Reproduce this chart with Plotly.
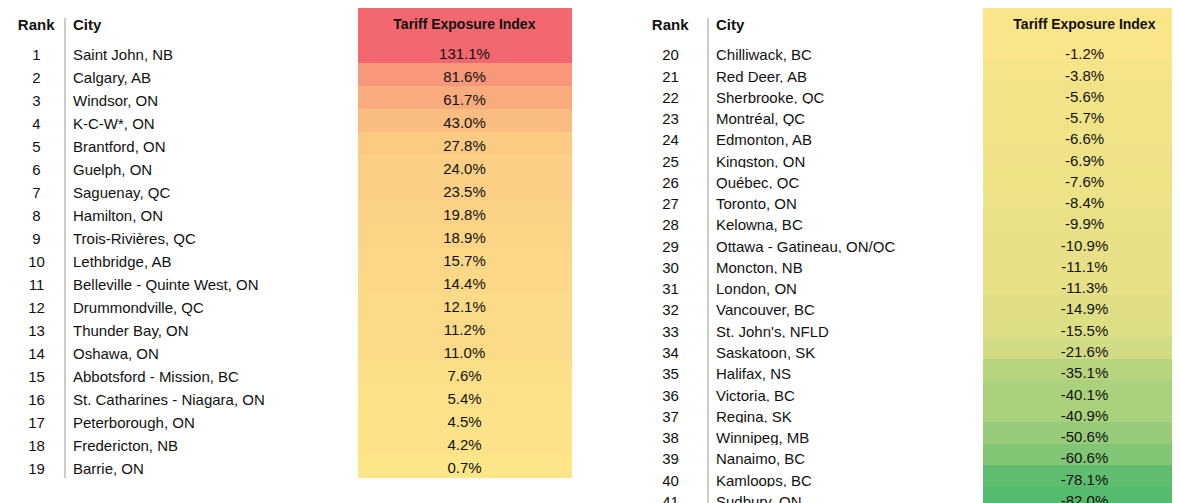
import plotly.graph_objects as go
from plotly.colors import sample_colorscale

ranks_left = list(range(1, 20))
cities_left = ["Saint John, NB", "Calgary, AB", "Windsor, ON", "K-C-W*, ON", "Brantford, ON",
               "Guelph, ON", "Saguenay, QC", "Hamilton, ON", "Trois-Rivières, QC", "Lethbridge, AB",
               "Belleville - Quinte West, ON", "Drummondville, QC", "Thunder Bay, ON", "Oshawa, ON",
               "Abbotsford - Mission, BC", "St. Catharines - Niagara, ON", "Peterborough, ON",
               "Fredericton, NB", "Barrie, ON"]
index_left = [131.1, 81.6, 61.7, 43.0, 27.8, 24.0, 23.5, 19.8, 18.9, 15.7, 14.4, 12.1, 11.2,
              11.0, 7.6, 5.4, 4.5, 4.2, 0.7]

ranks_right = list(range(20, 42))
cities_right = ["Chilliwack, BC", "Red Deer, AB", "Sherbrooke, QC", "Montréal, QC", "Edmonton, AB",
                "Kingston, ON", "Québec, QC", "Toronto, ON", "Kelowna, BC", "Ottawa - Gatineau, ON/QC",
                "Moncton, NB", "London, ON", "Vancouver, BC", "St. John's, NFLD", "Saskatoon, SK",
                "Halifax, NS", "Victoria, BC", "Regina, SK", "Winnipeg, MB", "Nanaimo, BC",
                "Kamloops, BC", "Sudbury, ON"]
index_right = [-1.2, -3.8, -5.6, -5.7, -6.6, -6.9, -7.6, -8.4, -9.9, -10.9, -11.1, -11.3, -14.9,
               -15.5, -21.6, -35.1, -40.1, -40.9, -50.6, -60.6, -78.1, -82.0]

W, H = 1180, 503
vmax = max(index_left)
vmin = min(index_right)
pos_scale = [[0, "#FDE68A"], [1, "#F2686E"]]
neg_scale = [[0, "#FDE68A"], [1, "#57BB6E"]]


def colour(v):
    if v >= 0:
        return sample_colorscale(pos_scale, [v / vmax])[0]
    return sample_colorscale(neg_scale, [v / vmin])[0]


def px(x):
    return x / W


def py(y):
    return 1 - y / H


font = dict(family="Liberation Sans, Arial", size=15, color="#111")
hfont = dict(family="Liberation Sans, Arial", size=15, color="#111")

fig = go.Figure()


def add_side(ranks, cities, vals, x0, xsplit, xc, x1, row_h, ybot, rank_w):
    dom_y = [0, 1]
    fig.add_trace(go.Table(
        domain=dict(x=[px(x0), px(xc)], y=dom_y),
        columnwidth=[rank_w, xc - x0 - rank_w],
        header=dict(values=["<b>Rank</b>", "<b>City</b>"], align=["center", "left"],
                    fill_color="white", line_color="white", font=hfont, height=21),
        cells=dict(values=[ranks, cities], align=["center", "left"],
                   fill_color="white", line_color="white", font=font, height=row_h),
    ))
    cols = [colour(v) for v in vals]
    fig.add_trace(go.Table(
        domain=dict(x=[px(xc), px(x1)], y=dom_y),
        header=dict(values=["<b>Tariff Exposure Index</b>"], align="center",
                    fill_color=cols[0], line_color=cols[0], font=dict(hfont, size=14), height=21),
        cells=dict(values=[[f"{v:.1f}%" for v in vals]], align="center",
                   fill_color=[cols], line_color=[cols], font=font, height=row_h),
    ))
    fig.add_shape(type="line", xref="paper", yref="paper",
                  x0=px(xsplit), x1=px(xsplit), y0=py(ybot), y1=py(10),
                  line=dict(color="#999", width=1))


add_side(ranks_left, cities_left, index_left, 0, 57, 350, 563, 23, 470, 57)
add_side(ranks_right, cities_right, index_right, 625, 700, 975, 1178, 21.27, 500, 75)

fig.update_layout(width=W, height=H, margin=dict(l=0, r=0, t=0, b=0),
                  paper_bgcolor="white", plot_bgcolor="white")
fig.write_html("out.html")
